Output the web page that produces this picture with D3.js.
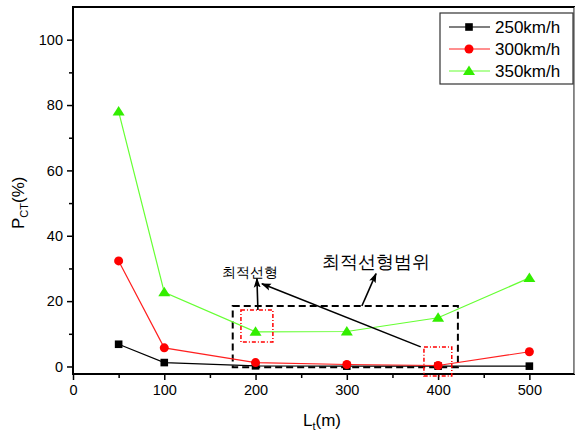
<!DOCTYPE html>
<html><head><meta charset="utf-8">
<script src="https://cdn.jsdelivr.net/npm/d3@7"></script>
<style>body{margin:0;background:#fff}svg{display:block}text{font-family:Arial,"Liberation Sans",sans-serif}</style>
</head><body><svg id="c" width="575" height="437"></svg>
<script>
const xValues = [50, 100, 200, 300, 400, 500];
const s250 = [6.8, 1.2, 0.2, 0.1, 0.1, 0.1];
const s300 = [32.3, 5.7, 1.2, 0.6, 0.3, 4.5];
const s350 = [78.0, 22.7, 10.6, 10.7, 14.9, 27.1];
const seriesNames = ["250km/h", "300km/h", "350km/h"];
const seriesColors = ["#000000", "#ff0000", "#33ee00"];
const lineColors = ["#000000", "#ff2020", "#66ff33"];
const xTicks = [0, 100, 200, 300, 400, 500];
const yTicks = [0, 20, 40, 60, 80, 100];

const svg = d3.select("#c");
const x = d3.scaleLinear().domain([0, 550]).range([73, 575]);
const y = d3.scaleLinear().domain([-2.3, 110]).range([374, 7]);

// frame
svg.append("rect").attr("x", 73).attr("y", 7).attr("width", 574.5 - 73).attr("height", 374 - 7)
  .attr("fill", "none").attr("stroke", "#000").attr("stroke-width", 2);
svg.append("line").attr("x1",574.5).attr("x2",574.5).attr("y1",7).attr("y2",374).attr("stroke","#999").attr("stroke-width",1);

// axes
const xAxis = d3.axisBottom(x).tickValues(xTicks).tickSize(6).tickPadding(5);
const gx = svg.append("g").attr("transform", "translate(0,374)").call(xAxis);
gx.select(".domain").remove();
gx.selectAll("line").attr("stroke-width", 1.5);
gx.selectAll("text").attr("font-size", 14.5).attr("fill", "#000");
const xMinor = d3.axisBottom(x).tickValues([50,150,250,350,450]).tickSize(4).tickFormat("");
const gxm = svg.append("g").attr("transform", "translate(0,374)").call(xMinor);
gxm.select(".domain").remove(); gxm.selectAll("line").attr("stroke-width", 1.5);

const yAxis = d3.axisLeft(y).tickValues(yTicks).tickSize(6).tickPadding(4);
const gy = svg.append("g").attr("transform", "translate(73,0)").call(yAxis);
gy.select(".domain").remove();
gy.selectAll("line").attr("stroke-width", 1.5);
gy.selectAll("text").attr("font-size", 14.5).attr("fill", "#000");
const yMinor = d3.axisLeft(y).tickValues([10,30,50,70,90]).tickSize(4).tickFormat("");
const gym = svg.append("g").attr("transform", "translate(73,0)").call(yMinor);
gym.select(".domain").remove(); gym.selectAll("line").attr("stroke-width", 1.5);

// axis titles
const xt = svg.append("text").attr("x", 303).attr("y", 426).attr("font-size", 17).attr("fill","#000");
xt.append("tspan").text("L");
xt.append("tspan").attr("font-size", 11).attr("dy", 4).text("t");
xt.append("tspan").attr("dy", -4).text("(m)");
const yt = svg.append("text").attr("transform", "translate(24,229) rotate(-90)").attr("font-size", 17).attr("fill","#000");
yt.append("tspan").text("P");
yt.append("tspan").attr("font-size", 11).attr("dy", 4).text("CT");
yt.append("tspan").attr("dy", -4).text("(%)");

// annotations (data coords)
const line = d3.line().x((d,i)=>x(xValues[i])).y(d=>y(d));
svg.append("rect").attr("x", x(175)).attr("y", y(18.5)).attr("width", x(421.7)-x(175)).attr("height", y(-0.2)-y(18.5))
  .attr("fill","none").attr("stroke","#000").attr("stroke-width",2).attr("stroke-dasharray","7,4");

const data = [s250, s300, s350];
data.forEach((s, k) => {
  svg.append("path").attr("d", line(s)).attr("fill","none").attr("stroke", lineColors[k]).attr("stroke-width", 1.2);
});
function marker(g, k, cx, cy) {
  if (k === 0) g.append("rect").attr("x", cx-3.8).attr("y", cy-3.8).attr("width", 7.6).attr("height", 7.6).attr("fill", seriesColors[0]);
  else if (k === 1) g.append("circle").attr("cx", cx).attr("cy", cy).attr("r", 4.5).attr("fill", seriesColors[1]);
  else g.append("path").attr("d", `M${cx},${cy-5.5}L${cx+6},${cy+4}L${cx-6},${cy+4}Z`).attr("fill", seriesColors[2]);
}
data.forEach((s, k) => {
  const g = svg.append("g");
  s.forEach((v, i) => marker(g, k, x(xValues[i]), y(v)));
});

// red dash-dot boxes
[[184,219,17.3,7.5],[384.5,415,6.0,-2.9]].forEach(b => {
  svg.append("rect").attr("x", x(b[0])).attr("y", y(b[2])).attr("width", x(b[1])-x(b[0])).attr("height", y(b[3])-y(b[2]))
    .attr("fill","none").attr("stroke","#ff0000").attr("stroke-width",1.5).attr("stroke-dasharray","4,2,1,2");
});

// arrows
svg.append("defs").append("marker").attr("id","ah").attr("viewBox","0 0 10 10").attr("refX",9).attr("refY",5)
  .attr("markerWidth",10).attr("markerHeight",10).attr("markerUnits","userSpaceOnUse").attr("orient","auto")
  .append("path").attr("d","M0,1.5L10,5L0,8.5L2,5Z").attr("fill","#000");
[[202.6,17.3,201.5,26.9],[381,6.0,207,25.3],[316.5,18.5,332,28.4]].forEach(a => {
  svg.append("line").attr("x1",x(a[0])).attr("y1",y(a[1])).attr("x2",x(a[2])).attr("y2",y(a[3]))
    .attr("stroke","#000").attr("stroke-width",1.6).attr("marker-end","url(#ah)");
});
svg.append("text").attr("x", x(194)).attr("y", y(27.5)).attr("text-anchor","middle").attr("font-size",14)
  .attr("font-family","'Noto Sans CJK KR',sans-serif").attr("fill","#000").text("최적선형");
svg.append("text").attr("x", x(332)).attr("y", y(30.2)).attr("text-anchor","middle").attr("font-size",17.5)
  .attr("font-family","'Noto Sans CJK KR',sans-serif").attr("fill","#000").text("최적선형범위");

// legend
svg.append("rect").attr("x",440).attr("y",13).attr("width",133).attr("height",71).attr("fill","#fff").attr("stroke","#333").attr("stroke-width",1.2);
seriesNames.forEach((n, k) => {
  const yy = 27 + k*22;
  svg.append("line").attr("x1",449).attr("x2",490).attr("y1",yy).attr("y2",yy).attr("stroke",lineColors[k]).attr("stroke-width",1.2);
  marker(svg, k, 469, yy);
  svg.append("text").attr("x",495).attr("y",yy+6).attr("font-size",17).attr("fill","#000").text(n);
});
</script></body></html>
